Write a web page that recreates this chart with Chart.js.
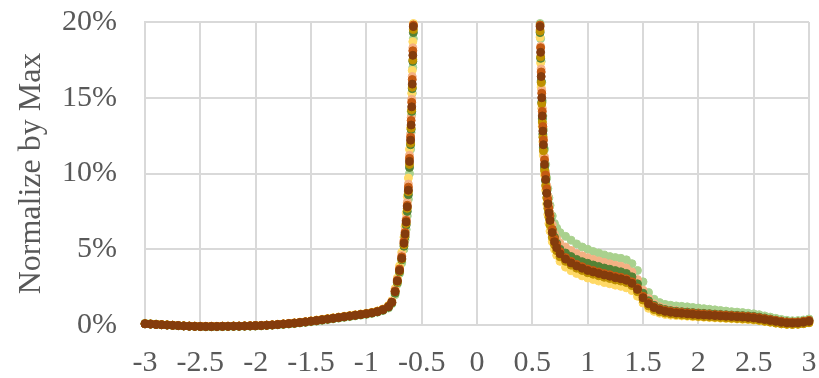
<!DOCTYPE html>
<html>
<head>
<meta charset="utf-8">
<script src="https://cdn.jsdelivr.net/npm/chart.js@4.4.1/dist/chart.umd.min.js"></script>
<style>
  html, body { margin: 0; padding: 0; background: #ffffff; }
  #chart { display: block; }
</style>
</head>
<body>
<canvas id="chart" width="819" height="378"></canvas>
<script>
// x positions of the two branches (the gap around 0 has no data)
const leftX = [
  -3.00, -2.95, -2.90, -2.85, -2.80, -2.75, -2.70, -2.65, -2.60, -2.55,
  -2.50, -2.45, -2.40, -2.35, -2.30, -2.25, -2.20, -2.15, -2.10, -2.05,
  -2.00, -1.95, -1.90, -1.85, -1.80, -1.75, -1.70, -1.65, -1.60, -1.55,
  -1.50, -1.45, -1.40, -1.35, -1.30, -1.25, -1.20, -1.15, -1.10, -1.05,
  -1.00, -0.95, -0.90, -0.85, -0.80,
  -0.77, -0.74, -0.72, -0.70, -0.68, -0.66, -0.65, -0.64, -0.63, -0.62,
  -0.61, -0.60, -0.595, -0.59, -0.585, -0.58, -0.575,
];
const rightX = [
  0.570, 0.575, 0.580, 0.585, 0.590, 0.595, 0.600, 0.610, 0.620, 0.630,
  0.640, 0.650, 0.660, 0.680, 0.700, 0.720, 0.750,
  0.80, 0.85, 0.90, 0.95, 1.00, 1.05, 1.10, 1.15, 1.20, 1.25,
  1.30, 1.35, 1.40, 1.45, 1.50, 1.55, 1.60, 1.65, 1.70, 1.75,
  1.80, 1.85, 1.90, 1.95, 2.00, 2.05, 2.10, 2.15, 2.20, 2.25,
  2.30, 2.35, 2.40, 2.45, 2.50, 2.55, 2.60, 2.65, 2.70, 2.75,
  2.80, 2.85, 2.90, 2.95, 3.00,
];

// values in % (normalized by max)
const brownLeft = [
  0.08, 0.06, 0.04, 0.02, 0.00, -0.02, -0.04, -0.06, -0.08, -0.09,
  -0.10, -0.10, -0.10, -0.10, -0.09, -0.09, -0.08, -0.08, -0.07, -0.06,
  -0.05, -0.04, -0.02, 0.00, 0.03, 0.06, 0.09, 0.12, 0.16, 0.20,
  0.25, 0.29, 0.34, 0.39, 0.44, 0.49, 0.54, 0.59, 0.64, 0.69,
  0.74, 0.80, 0.88, 1.00, 1.20,
  1.5, 2.2, 2.9, 3.6, 4.4, 5.4, 6.0, 6.8, 7.8, 8.9, 10.8, 12.2, 13.2, 14.4, 15.9, 17.8, 19.7,
];
const brownRight = [
  19.7, 18.0, 16.4, 15.0, 13.8, 12.8, 11.9, 10.6, 9.6, 8.7, 8.0, 7.4, 6.9, 6.1, 5.5, 5.1, 4.7,
  4.35, 4.10, 3.90, 3.75, 3.60, 3.50, 3.40, 3.30, 3.22, 3.12,
  3.05, 2.95, 2.75, 2.35, 1.80, 1.40, 1.15, 1.00, 0.90, 0.84,
  0.80, 0.77, 0.74, 0.71, 0.68, 0.66, 0.64, 0.62, 0.60, 0.58,
  0.56, 0.54, 0.52, 0.50, 0.47, 0.42, 0.36, 0.30, 0.24, 0.18,
  0.14, 0.13, 0.14, 0.18, 0.24,
];

const darkOrangeLeft = [
  0.08, 0.06, 0.04, 0.02, 0.00, -0.02, -0.04, -0.06, -0.07, -0.08,
  -0.09, -0.09, -0.09, -0.09, -0.08, -0.08, -0.07, -0.07, -0.06, -0.05,
  -0.04, -0.03, -0.01, 0.01, 0.04, 0.07, 0.10, 0.13, 0.17, 0.21,
  0.26, 0.30, 0.35, 0.40, 0.45, 0.50, 0.55, 0.60, 0.65, 0.70,
  0.75, 0.81, 0.89, 1.02, 1.22,
  1.5, 2.25, 2.95, 3.7, 4.5, 5.5, 6.1, 6.9, 7.9, 9.1, 11.0, 12.4, 13.5, 14.7, 16.2, 18.1, 19.8,
];
const darkOrangeRight = [
  19.8, 18.3, 16.7, 15.3, 14.1, 13.1, 12.2, 10.9, 9.9, 9.0, 8.3, 7.7, 7.2, 6.3, 5.7, 5.3, 4.85,
  4.45, 4.20, 4.00, 3.85, 3.70, 3.60, 3.50, 3.40, 3.32, 3.22,
  3.15, 3.05, 2.85, 2.45, 1.90, 1.48, 1.22, 1.06, 0.96, 0.90,
  0.86, 0.83, 0.80, 0.77, 0.74, 0.72, 0.70, 0.68, 0.66, 0.64,
  0.62, 0.60, 0.58, 0.56, 0.53, 0.48, 0.42, 0.36, 0.30, 0.24,
  0.20, 0.19, 0.20, 0.24, 0.30,
];

const ochreLeft = [
  0.09, 0.07, 0.05, 0.03, 0.01, -0.01, -0.03, -0.05, -0.07, -0.08,
  -0.09, -0.09, -0.09, -0.09, -0.08, -0.08, -0.07, -0.07, -0.06, -0.05,
  -0.04, -0.03, -0.01, 0.01, 0.04, 0.07, 0.10, 0.13, 0.17, 0.21,
  0.26, 0.31, 0.36, 0.41, 0.46, 0.51, 0.56, 0.61, 0.66, 0.71,
  0.76, 0.82, 0.91, 1.03, 1.25,
  1.5, 2.2, 2.85, 3.55, 4.35, 5.3, 5.9, 6.7, 7.7, 8.8, 10.6, 12.0, 13.0, 14.2, 15.7, 17.5, 19.5,
];
const ochreRight = [
  19.4, 17.7, 16.0, 14.6, 13.4, 12.4, 11.5, 10.2, 9.2, 8.4, 7.7, 7.1, 6.6, 5.8, 5.3, 4.9, 4.5,
  4.20, 3.95, 3.75, 3.60, 3.45, 3.35, 3.25, 3.15, 3.07, 2.97,
  2.90, 2.80, 2.60, 2.20, 1.65, 1.26, 1.02, 0.88, 0.79, 0.73,
  0.69, 0.66, 0.63, 0.60, 0.57, 0.55, 0.53, 0.51, 0.49, 0.47,
  0.45, 0.43, 0.41, 0.39, 0.36, 0.31, 0.25, 0.19, 0.13, 0.08,
  0.05, 0.04, 0.05, 0.09, 0.15,
];

const darkGreenLeft = [
  0.07, 0.05, 0.03, 0.01, -0.01, -0.03, -0.05, -0.07, -0.08, -0.09,
  -0.10, -0.11, -0.11, -0.10, -0.10, -0.09, -0.09, -0.08, -0.07, -0.06,
  -0.05, -0.04, -0.02, 0.00, 0.02, 0.05, 0.08, 0.11, 0.15, 0.19,
  0.24, 0.28, 0.33, 0.38, 0.43, 0.48, 0.53, 0.58, 0.63, 0.68,
  0.73, 0.79, 0.87, 0.98, 1.17,
  1.45, 2.1, 2.8, 3.5, 4.3, 5.2, 5.8, 6.6, 7.5, 8.6, 10.4, 11.9, 12.9, 14.1, 15.6, 17.4, 19.3,
];
const darkGreenRight = [
  19.3, 17.6, 16.1, 14.7, 13.6, 12.6, 11.7, 10.4, 9.5, 8.7, 8.0, 7.5, 7.0, 6.3, 5.8, 5.4, 5.0,
  4.75, 4.52, 4.33, 4.18, 4.07, 3.96, 3.86, 3.76, 3.68, 3.59,
  3.51, 3.40, 3.18, 2.72, 2.10, 1.60, 1.30, 1.12, 1.02, 0.95,
  0.91, 0.88, 0.85, 0.82, 0.79, 0.77, 0.75, 0.72, 0.70, 0.68,
  0.66, 0.64, 0.62, 0.60, 0.57, 0.52, 0.46, 0.39, 0.32, 0.26,
  0.21, 0.19, 0.20, 0.24, 0.30,
];

const lightOrangeLeft = [
  0.08, 0.06, 0.04, 0.02, 0.00, -0.02, -0.04, -0.06, -0.08, -0.09,
  -0.10, -0.10, -0.10, -0.09, -0.09, -0.08, -0.08, -0.07, -0.06, -0.05,
  -0.04, -0.03, -0.01, 0.01, 0.04, 0.07, 0.10, 0.13, 0.17, 0.21,
  0.26, 0.30, 0.35, 0.40, 0.45, 0.50, 0.55, 0.60, 0.65, 0.70,
  0.75, 0.81, 0.90, 1.02, 1.24,
  1.55, 2.3, 3.0, 3.7, 4.6, 5.6, 6.2, 7.0, 8.1, 9.3, 11.2, 12.6, 13.7, 14.9, 16.4, 18.3, 19.8,
];
const lightOrangeRight = [
  19.5, 18.4, 16.9, 15.5, 14.3, 13.3, 12.4, 11.1, 10.1, 9.2, 8.5, 7.9, 7.4, 6.6, 6.0, 5.7, 5.4,
  5.15, 4.92, 4.72, 4.57, 4.44, 4.33, 4.23, 4.13, 4.04, 3.95,
  3.88, 3.76, 3.50, 3.00, 2.30, 1.75, 1.40, 1.20, 1.08, 1.00,
  0.95, 0.91, 0.87, 0.84, 0.81, 0.78, 0.75, 0.72, 0.70, 0.68,
  0.66, 0.64, 0.62, 0.59, 0.56, 0.51, 0.45, 0.38, 0.31, 0.25,
  0.20, 0.18, 0.19, 0.23, 0.30,
];

const yellowLeft = [
  0.09, 0.07, 0.05, 0.03, 0.01, -0.01, -0.03, -0.05, -0.06, -0.07,
  -0.08, -0.08, -0.08, -0.08, -0.07, -0.07, -0.06, -0.06, -0.05, -0.04,
  -0.03, -0.02, 0.00, 0.02, 0.05, 0.08, 0.11, 0.15, 0.19, 0.23,
  0.28, 0.33, 0.38, 0.43, 0.48, 0.53, 0.58, 0.63, 0.68, 0.73,
  0.78, 0.84, 0.93, 1.06, 1.28,
  1.6, 2.4, 3.1, 3.9, 4.8, 5.8, 6.5, 7.4, 8.5, 9.7, 11.6, 13.0, 14.1, 15.3, 16.8, 18.7, 19.9,
];
const yellowRight = [
  19.0, 17.3, 15.7, 14.3, 13.1, 12.1, 11.2, 9.9, 8.9, 8.0, 7.3, 6.7, 6.2, 5.5, 5.0, 4.6, 4.2,
  3.82, 3.58, 3.40, 3.24, 3.10, 3.00, 2.90, 2.80, 2.72, 2.63,
  2.55, 2.45, 2.27, 1.90, 1.45, 1.10, 0.90, 0.78, 0.70, 0.65,
  0.62, 0.60, 0.58, 0.55, 0.53, 0.51, 0.49, 0.47, 0.45, 0.43,
  0.41, 0.39, 0.37, 0.35, 0.32, 0.28, 0.23, 0.18, 0.12, 0.07,
  0.04, 0.03, 0.05, 0.09, 0.15,
];

const lightGreenLeft = [
  0.12, 0.09, 0.06, 0.03, 0.01, -0.02, -0.04, -0.06, -0.08, -0.10,
  -0.11, -0.12, -0.12, -0.12, -0.11, -0.11, -0.10, -0.10, -0.09, -0.08,
  -0.07, -0.06, -0.04, -0.02, 0.01, 0.03, 0.06, 0.09, 0.13, 0.17,
  0.21, 0.25, 0.30, 0.35, 0.40, 0.45, 0.50, 0.55, 0.60, 0.65,
  0.70, 0.76, 0.84, 0.95, 1.12,
  1.4, 2.0, 2.7, 3.4, 4.1, 5.0, 5.6, 6.3, 7.2, 8.3, 10.0, 11.6, 12.7, 13.9, 15.3, 17.0, 18.9,
];
const lightGreenRight = [
  19.9, 18.9, 17.4, 16.0, 14.8, 13.8, 12.9, 11.6, 10.6, 9.7, 9.0, 8.4, 7.9, 7.2, 6.7, 6.4, 6.1,
  5.85, 5.60, 5.35, 5.15, 5.00, 4.85, 4.75, 4.62, 4.52, 4.45,
  4.40, 4.30, 4.05, 3.60, 2.85, 2.15, 1.70, 1.48, 1.36, 1.30,
  1.26, 1.23, 1.20, 1.16, 1.12, 1.08, 1.04, 1.00, 0.96, 0.92,
  0.88, 0.85, 0.82, 0.78, 0.74, 0.68, 0.60, 0.52, 0.44, 0.37,
  0.31, 0.28, 0.29, 0.33, 0.40,
];

// first entry is drawn on top
const series = [
  { color: "#843C0C", left: brownLeft, right: brownRight },
  { color: "#C55A11", left: darkOrangeLeft, right: darkOrangeRight },
  { color: "#BF9000", left: ochreLeft, right: ochreRight },
  { color: "#548235", left: darkGreenLeft, right: darkGreenRight },
  { color: "#F4B183", left: lightOrangeLeft, right: lightOrangeRight },
  { color: "#FFD966", left: yellowLeft, right: yellowRight },
  { color: "#A9D18E", left: lightGreenLeft, right: lightGreenRight },
];

const toPoints = (s) =>
  leftX.map((x, i) => ({ x: x, y: s.left[i] })).concat(
    rightX.map((x, i) => ({ x: x, y: s.right[i] }))
  );

const textColor = "#595959";
const gridColor = "#d9d9d9";
const serif = "'Liberation Serif', 'Times New Roman', serif";

new Chart(document.getElementById("chart"), {
  type: "scatter",
  data: {
    datasets: series.map((s) => ({
      data: toPoints(s),
      backgroundColor: s.color,
      borderColor: s.color,
      pointRadius: 4,
      pointBorderWidth: 1,
      clip: false,
    })),
  },
  options: {
    responsive: false,
    animation: false,
    devicePixelRatio: 1,
    layout: { padding: { top: 22, right: 10, left: 0, bottom: 0 } },
    plugins: { legend: { display: false }, tooltip: { enabled: false } },
    scales: {
      x: {
        type: "linear",
        min: -3,
        max: 3,
        ticks: {
          stepSize: 0.5,
          color: textColor,
          font: { family: serif, size: 30 },
          padding: 20,
          maxRotation: 0,
          callback: (v) => String(v),
        },
        grid: { color: gridColor, lineWidth: 2, drawTicks: false },
        border: { color: gridColor, width: 2 },
        afterFit: (scale) => {
          scale.height = 53;
          scale.paddingLeft = 0;
          scale.paddingRight = 0;
        },
      },
      y: {
        min: 0,
        max: 20,
        ticks: {
          stepSize: 5,
          color: textColor,
          font: { family: serif, size: 30 },
          padding: 28,
          callback: (v) => v + "%",
        },
        grid: { color: gridColor, lineWidth: 2, drawTicks: false },
        border: { color: gridColor, width: 2 },
        title: {
          display: true,
          text: "Normalize by Max",
          color: textColor,
          font: { family: serif, size: 32 },
          padding: { top: 12, bottom: 0 },
        },
        afterFit: (scale) => {
          scale.width = 145;
          scale.paddingTop = 0;
          scale.paddingBottom = 0;
        },
      },
    },
  },
});
</script>
</body>
</html>
